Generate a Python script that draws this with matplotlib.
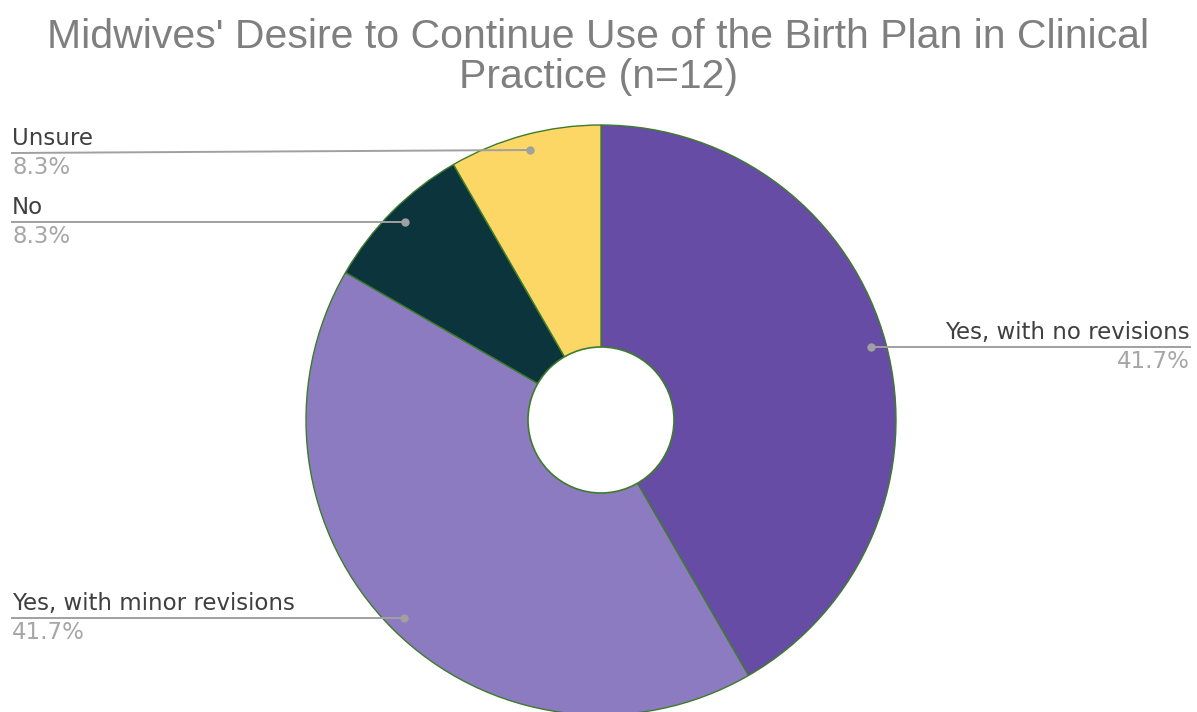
import numpy as np
import matplotlib
matplotlib.use("Agg")
import matplotlib.pyplot as plt

# data
labels = ["Yes, with no revisions", "Yes, with minor revisions", "No", "Unsure"]
counts = [5, 5, 1, 1]
colors = ["#674CA6", "#8C7BC0", "#0C343C", "#FCD765"]

W, H = 1197, 712
fig = plt.figure(figsize=(W / 100, H / 100), dpi=100)
ax = fig.add_axes([0, 0, 1, 1])

cx, cy, R = 601, H - 420, 295

wedges, _ = ax.pie(counts, colors=colors, startangle=90, counterclock=False,
                   center=(cx, cy), radius=R, frame=True,
                   wedgeprops=dict(edgecolor="#3E7B2C", linewidth=1.0))
ax.set_xlim(0, W)
ax.set_ylim(0, H)
ax.set_aspect('equal')
ax.axis('off')
ax.add_patch(plt.Circle((cx, cy), 73, facecolor='white', edgecolor="#3E7B2C",
                        linewidth=1.2, zorder=5))

total = sum(counts)
pcts = [f"{100 * c / total:.1f}%" for c in counts]

LINE_C = "#A0A0A0"
TXT_C = "#404040"
PCT_C = "#A6A6A6"
# label placement: dot x, dot y (px from top), text anchor x, alignment
lab_pos = {
    0: (871, 347, 1190, 'right'),
    1: (404, 618, 12, 'left'),
    2: (405, 222, 12, 'left'),
    3: (530, 150, 12, 'left'),
}
for i, (dx, dy, tx, side) in lab_pos.items():
    y = H - dy
    ty = y if i != 3 else y - 3
    ax.plot([dx, tx], [y, ty], color=LINE_C, lw=1.4, zorder=6)
    ax.plot([dx], [y], 'o', color=LINE_C, ms=5, zorder=7)
    ax.text(tx, ty + 3, labels[i], ha=side, va='bottom', fontsize=16.5,
            color=TXT_C, zorder=7)
    ax.text(tx, ty - 3, pcts[i], ha=side, va='top', fontsize=16.5,
            color=PCT_C, zorder=7)

fig.text(0.5, 1 - 57 / H,
         "Midwives' Desire to Continue Use of the Birth Plan in Clinical\nPractice (n=12)",
         ha='center', va='center', fontsize=29.5, color="#7F7F7F",
         family=['Liberation Sans', 'DejaVu Sans'], linespacing=1.1)

fig.savefig("out.png", dpi=100, facecolor='white')
